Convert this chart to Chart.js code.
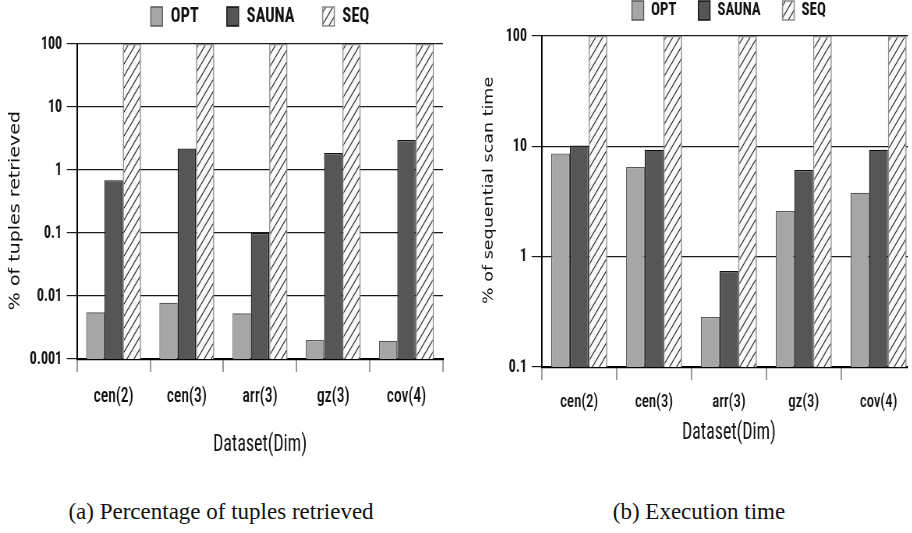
<!DOCTYPE html>
<html><head><meta charset="utf-8">
<script src="https://cdn.jsdelivr.net/npm/chart.js@4.4.1/dist/chart.umd.min.js"></script>
<style>
html,body{margin:0;padding:0;background:#fff;width:912px;height:533px;overflow:hidden;}
#clip{position:absolute;left:0;top:0;width:908px;height:533px;overflow:hidden;}
.sq{position:absolute;top:0;transform:scaleX(0.78);transform-origin:0 0;}
.cap{position:absolute;top:499px;font-family:'Liberation Serif','Times New Roman',serif;font-size:23px;color:#111;white-space:nowrap;transform:translateX(-50%);}
</style></head><body>
<div id="clip">
 <div class="sq" style="left:0"><canvas id="c1" width="585" height="470" style="width:585px;height:470px"></canvas></div>
 <div class="sq" style="left:456px"><canvas id="c2" width="600" height="470" style="width:600px;height:470px"></canvas></div>
</div>
<div class="cap" style="left:221px">(a) Percentage of tuples retrieved</div>
<div class="cap" style="left:699px">(b) Execution time</div>
<script>
// ---- data ----
const categories = ['cen(2)', 'cen(3)', 'arr(3)', 'gz(3)', 'cov(4)'];
const seriesNames = ['OPT', 'SAUNA', 'SEQ'];
const tuplesOPT   = [0.0055, 0.0078, 0.0053, 0.002, 0.00195];
const tuplesSAUNA = [0.69, 2.2, 0.1, 1.86, 3.0];
const tuplesSEQ   = [100, 100, 100, 100, 100];
const timeOPT     = [8.6, 6.5, 0.284, 2.6, 3.8];
const timeSAUNA   = [10.2, 9.3, 0.74, 6.1, 9.3];
const timeSEQ     = [100, 100, 100, 100, 100];
const tuplesTicks  = [0.001, 0.01, 0.1, 1, 10, 100];
const tuplesLabels = ['0.001', '0.01', '0.1', '1', '10', '100'];
const timeTicks    = [0.1, 1, 10, 100];
const timeLabels   = ['0.1', '1', '10', '100'];
const xTitle = 'Dataset(Dim)';
const tuplesTitle = '% of tuples retrieved';
const timeTitle = '% of sequential scan time';

// ---- styling ----
const NARROW = "'Roboto Condensed','DejaVu Sans Condensed',sans-serif";

function makeHatch() {
  const w = 9, h = 12;
  const c = document.createElement('canvas');
  c.width = w; c.height = h;
  const x = c.getContext('2d');
  x.fillStyle = '#fafafa';
  x.fillRect(0, 0, w, h);
  x.strokeStyle = '#2a2a2a';
  x.lineWidth = 1.1;
  x.beginPath();
  x.moveTo(0, h); x.lineTo(w, 0);
  x.moveTo(-w, h); x.lineTo(w, -h);
  x.moveTo(0, 2 * h); x.lineTo(2 * w, 0);
  x.stroke();
  return x.createPattern(c, 'repeat');
}
const HATCH = makeHatch();

function build(canvasId, p) {
  const legendFix = {
    id: 'legendFix',
    beforeUpdate(chart) {
      const lg = chart.legend;
      if (lg && !lg._fixed) {
        const f = lg.fit;
        lg.fit = function () { f.call(this); this.height = p.legendH; };
        lg._fixed = true;
      }
    }
  };
  return new Chart(document.getElementById(canvasId), {
    type: 'bar',
    data: {
      labels: categories,
      datasets: [
        { label: seriesNames[0], data: p.opt, backgroundColor: '#a6a6a6', borderColor: '#5a5a5a', borderWidth: 1.3 },
        { label: seriesNames[1], data: p.sauna, backgroundColor: '#565656', borderColor: '#111111', borderWidth: 1.3 },
        { label: seriesNames[2], data: p.seq, backgroundColor: HATCH, borderColor: '#8c8c8c', borderWidth: 1.6 }
      ]
    },
    options: {
      responsive: false, animation: false, devicePixelRatio: 1,
      layout: { padding: { left: 0, right: p.padRight, top: p.padTop, bottom: 0 } },
      datasets: { bar: { categoryPercentage: 0.75, barPercentage: 1.0 } },
      plugins: {
        legend: {
          position: 'top', fullSize: false,
          labels: { boxWidth: 15, boxHeight: 19, padding: p.legPad, color: '#111',
                    font: { family: NARROW, size: p.legFont, weight: 'bold' } }
        },
        tooltip: { enabled: false }
      },
      scales: {
        x: {
          grid: { offset: true, drawOnChartArea: false, drawTicks: true, tickLength: 13, color: '#9a9a9a', lineWidth: 2 },
          border: { display: true, color: '#000', width: 2.2 },
          ticks: { color: '#111', padding: p.xTickPad, maxRotation: 0, autoSkip: false,
                   font: { family: NARROW, size: p.xFont, weight: '500' } },
          title: { display: true, text: xTitle, color: '#111', font: { family: NARROW, size: 23 },
                   padding: { top: 0, bottom: p.xTitlePad } },
          afterFit(s) { s.height = p.xH; }
        },
        y: {
          type: 'logarithmic', min: p.yTicks[0], max: p.yTicks[p.yTicks.length - 1],
          grid: { color: '#1a1a1a', lineWidth: 1.2, drawTicks: true, tickLength: 13 },
          border: { display: true, color: '#000', width: 2 },
          afterBuildTicks(s) { s.ticks = p.yTicks.map(v => ({ value: v })); },
          ticks: { color: '#111', padding: 6, autoSkip: false,
                   font: { family: NARROW, size: 18, weight: 'bold' },
                   callback: (v, i) => p.yLabels[i] },
          title: { display: true, text: p.yTitle, color: '#111',
                   font: { family: "'DejaVu Sans',sans-serif", size: p.yTitleFont },
                   padding: { top: p.yTitlePad, bottom: 0 } },
          afterFit(s) { s.width = p.yW; }
        }
      }
    },
    plugins: [legendFix]
  });
}

build('c1', {
  opt: tuplesOPT, sauna: tuplesSAUNA, seq: tuplesSEQ,
  yTicks: tuplesTicks, yLabels: tuplesLabels, yTitle: tuplesTitle + '   ',
  padTop: -30, legendH: 74, padRight: 17, legPad: 36, legFont: 21,
  xTickPad: 13, xFont: 20, xTitlePad: 11, xH: 111, yW: 98.7, yTitleFont: 19, yTitlePad: 9
});
build('c2', {
  opt: timeOPT, sauna: timeSAUNA, seq: timeSEQ,
  yTicks: timeTicks, yLabels: timeLabels, yTitle: '    ' + timeTitle,
  padTop: -27, legendH: 63, padRight: 10.3, legPad: 28, legFont: 19,
  xTickPad: 11, xFont: 19, xTitlePad: 23, xH: 103, yW: 110, yTitleFont: 17.5, yTitlePad: 32
});
</script>
</body></html>
